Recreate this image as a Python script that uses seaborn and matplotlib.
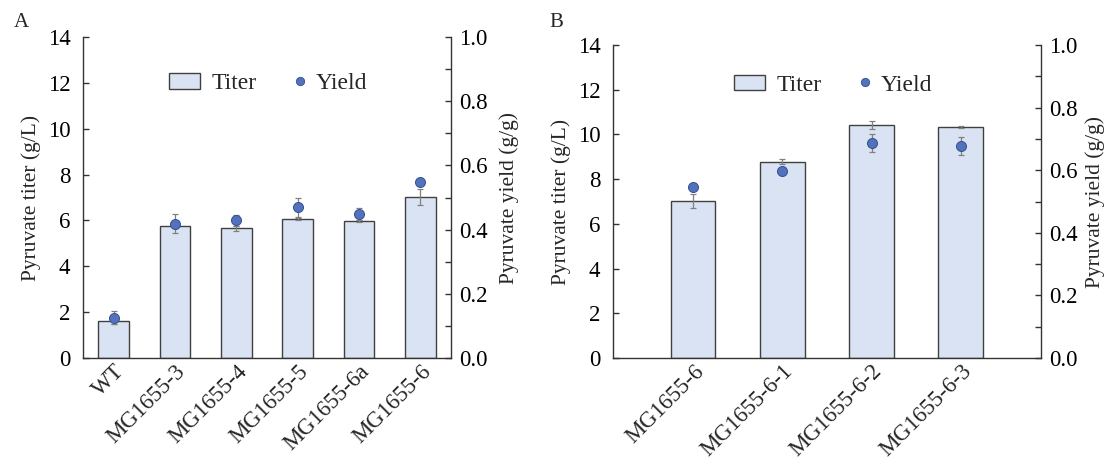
import numpy as np
import pandas as pd
import matplotlib
matplotlib.use("Agg")
import matplotlib.pyplot as plt
import seaborn as sns
from matplotlib.patches import Patch
from matplotlib.lines import Line2D
from matplotlib.legend_handler import HandlerBase
from matplotlib.ticker import MultipleLocator, FormatStrFormatter

# ---- data ----
strains_a = ["WT", "MG1655-3", "MG1655-4", "MG1655-5", "MG1655-6a", "MG1655-6"]
titer_a = [1.62, 5.75, 5.65, 6.07, 5.99, 7.03]
titer_err_a = [0.12, 0.10, 0.10, 0.05, 0.05, 0.34]
yield_a = [0.126, 0.418, 0.429, 0.469, 0.449, 0.548]
yield_err_a = [0.019, 0.030, 0.018, 0.031, 0.019, 0.008]

strains_b = ["MG1655-6", "MG1655-6-1", "MG1655-6-2", "MG1655-6-3"]
titer_b = [7.02, 8.78, 10.43, 10.34]
titer_err_b = [0.33, 0.11, 0.19, 0.03]
yield_b = [0.547, 0.597, 0.687, 0.677]
yield_err_b = [0.005, 0.005, 0.030, 0.030]

# ---- style ----
sns.set_style("white")
plt.rcParams["font.family"] = ["Liberation Serif", "DejaVu Serif"]

BAR_FILL = "#dae3f3"
BAR_EDGE = "#404040"
DOT = "#5272bb"
DOT_EDGE = "#34508f"
ERR = "#808080"
SPINE = "#333333"
TFS = 16.5   # tick labels
AFS = 15.5   # axis labels
LFS = 17     # legend


class DotHandler(HandlerBase):
    """Legend handle with the dot placed near the label."""
    def create_artists(self, legend, orig_handle, xdescent, ydescent,
                       width, height, fontsize, trans):
        x = width - xdescent - 2.5
        y = height / 2.0 - ydescent
        ln = Line2D([x], [y], marker="o", linestyle="none",
                    color=orig_handle.get_color(),
                    markeredgecolor=orig_handle.get_markeredgecolor(),
                    markersize=orig_handle.get_markersize(),
                    markeredgewidth=orig_handle.get_markeredgewidth())
        ln.set_transform(trans)
        return [ln]


fig = plt.figure(figsize=(11.08, 4.65), dpi=100)
axA = fig.add_axes([0.0749, 0.2301, 0.3321, 0.6903])
axB = fig.add_axes([0.5532, 0.2301, 0.3863, 0.6731])


def panel(ax, strains, titer, terr, yld, yerr, xlim, leg_x, leg_y, rpad):
    df = pd.DataFrame({"strain": strains, "titer": titer})
    sns.barplot(data=df, x="strain", y="titer", ax=ax, color=BAR_FILL,
                edgecolor=BAR_EDGE, linewidth=1.0, width=0.5, saturation=1,
                errorbar=None, zorder=2)
    xpos = np.arange(len(strains))
    ax.errorbar(xpos, titer, yerr=terr, fmt="none", ecolor=ERR,
                elinewidth=0.9, capsize=2.3, capthick=0.9, zorder=3)
    ax.set_ylim(0, 14)
    ax.set_xlim(*xlim)
    ax.yaxis.set_major_locator(MultipleLocator(2))
    ax.set_xlabel("")
    ax.set_ylabel("Pyruvate titer (g/L)", fontsize=AFS, labelpad=5)
    ax.tick_params(axis="y", direction="in", length=4, width=1,
                   colors=SPINE, labelsize=TFS, labelcolor="black", pad=9)
    ax.tick_params(axis="x", length=0, labelsize=TFS, pad=2)
    ax.set_xticks(xpos)
    ax.set_xticklabels(strains, rotation=45, ha="right",
                       rotation_mode="anchor")
    for s in ["left", "bottom"]:
        ax.spines[s].set_color(SPINE)
        ax.spines[s].set_linewidth(1.0)
    ax.spines["top"].set_visible(False)
    ax.spines["right"].set_visible(False)

    ax2 = ax.twinx()
    ax2.errorbar(xpos, yld, yerr=yerr, fmt="none", ecolor=ERR,
                 elinewidth=0.9, capsize=2.3, capthick=0.9, zorder=3)
    sns.scatterplot(x=xpos, y=yld, ax=ax2, s=52, color=DOT,
                    edgecolor=DOT_EDGE, linewidth=0.7, zorder=4, legend=False)
    ax2.set_ylim(0, 1.0)
    ax2.set_xlim(*xlim)
    ax2.yaxis.set_major_locator(MultipleLocator(0.2))
    ax2.yaxis.set_minor_locator(MultipleLocator(0.1))
    ax2.yaxis.set_major_formatter(FormatStrFormatter("%.1f"))
    ax2.set_ylabel("Pyruvate yield (g/g)", fontsize=AFS, labelpad=rpad)
    ax2.tick_params(axis="y", which="both", direction="in", length=4,
                    width=1, colors=SPINE, labelsize=TFS, labelcolor="black",
                    pad=6)
    ax2.spines["right"].set_visible(True)
    ax2.spines["right"].set_color(SPINE)
    ax2.spines["right"].set_linewidth(1.0)
    for s in ["left", "bottom", "top"]:
        ax2.spines[s].set_visible(False)

    bar_h = Patch(facecolor=BAR_FILL, edgecolor=BAR_EDGE, linewidth=1.0)
    dot_h = Line2D([], [], marker="o", linestyle="none", color=DOT,
                   markeredgecolor=DOT_EDGE, markersize=6,
                   markeredgewidth=0.6)
    ax2.legend([bar_h, dot_h], ["Titer", "Yield"], ncol=2, frameon=False,
               fontsize=LFS, loc="center", bbox_to_anchor=(leg_x, leg_y),
               handlelength=1.3, handleheight=0.62, handletextpad=0.5,
               columnspacing=0.7, handler_map={Line2D: DotHandler()})
    return ax2


panel(axA, strains_a, titer_a, titer_err_a, yield_a, yield_err_a,
      (-0.5, 5.5), 0.503, 0.854, 8)
panel(axB, strains_b, titer_b, titer_err_b, yield_b, yield_err_b,
      (-0.9, 3.9), 0.514, 0.872, 5)

fig.text(0.0125, 0.951, "A", fontsize=15, va="center", ha="left")
fig.text(0.4955, 0.951, "B", fontsize=15, va="center", ha="left")

fig.savefig("out.png", dpi=100, facecolor="white")
